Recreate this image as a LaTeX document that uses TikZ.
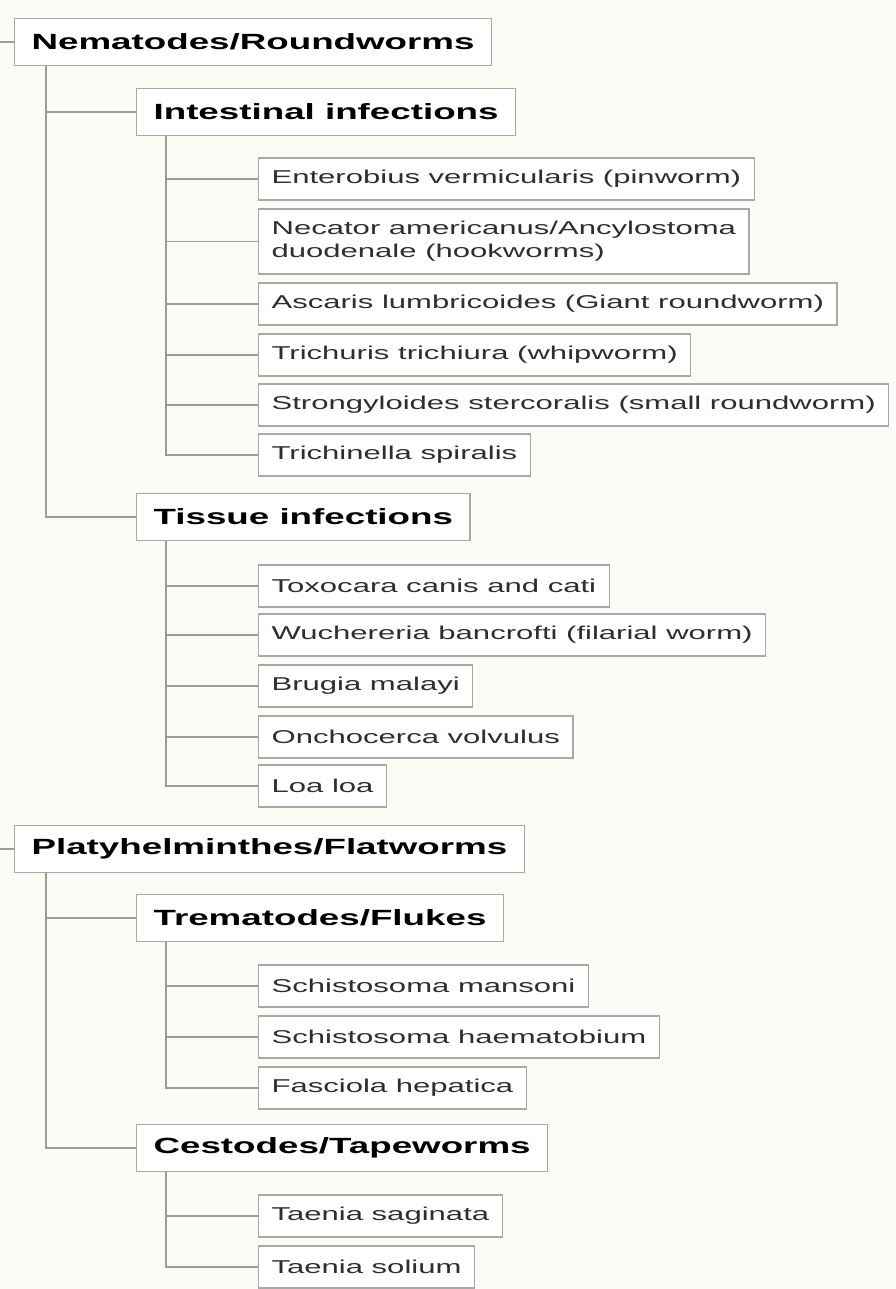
\documentclass[tikz,border=0pt]{standalone}
\usepackage{fontspec}
\setmainfont{Liberation Sans}[FakeStretch=1.67]
\definecolor{paper}{HTML}{FCFCF6}
\definecolor{boxgray}{HTML}{A8A8A8}
\definecolor{linegray}{HTML}{9C9C9C}
\definecolor{leaftext}{HTML}{2E2E2E}
\begin{document}
\begin{tikzpicture}[x=1pt,y=-1pt,
  box/.style={draw=boxgray,fill=white,line width=1.2pt,anchor=west,align=left},
  head/.style={box,font=\fontsize{22}{26}\selectfont\bfseries,text=black,inner xsep=17pt,minimum height=47pt},
  leaf/.style={box,font=\fontsize{18.6}{23}\selectfont,text=leaftext,inner xsep=13pt,minimum height=42pt},
  link/.style={draw=linegray,line width=1.3pt}]
\useasboundingbox (0,0) rectangle (895,1289);
\fill[paper] (0,0) rectangle (895,1289);
\coordinate (edge) at (0,0);

% roundworms
\node[head] (nem) at (14,42) {Nematodes/Roundworms};
\node[head] (intest) at (136,112) {Intestinal infections};
\node[leaf] (ent) at (258,179) {Enterobius vermicularis (pinworm)};
\node[leaf,minimum height=65pt] (nec) at (258,241.5) {Necator americanus/Ancylostoma\\duodenale (hookworms)};
\node[leaf] (asc) at (258,304) {Ascaris lumbricoides (Giant roundworm)};
\node[leaf] (tri) at (258,355) {Trichuris trichiura (whipworm)};
\node[leaf] (str) at (258,405) {Strongyloides stercoralis (small roundworm)};
\node[leaf] (trich) at (258,455) {Trichinella spiralis};

\node[head] (tissue) at (136,517) {Tissue infections};
\node[leaf] (tox) at (258,586) {Toxocara canis and cati};
\node[leaf] (wuch) at (258,635) {Wuchereria bancrofti (filarial worm)};
\node[leaf] (brug) at (258,686) {Brugia malayi};
\node[leaf] (onch) at (258,737) {Onchocerca volvulus};
\node[leaf] (loa) at (258,786) {Loa loa};

% flatworms
\node[head] (plat) at (14,849) {Platyhelminthes/Flatworms};
\node[head] (trem) at (136,918) {Trematodes/Flukes};
\node[leaf] (mans) at (258,986) {Schistosoma mansoni};
\node[leaf] (haem) at (258,1037) {Schistosoma haematobium};
\node[leaf] (fasc) at (258,1088) {Fasciola hepatica};

\node[head] (cest) at (136,1148) {Cestodes/Tapeworms};
\node[leaf] (sag) at (258,1216) {Taenia saginata};
\node[leaf] (sol) at (258,1267) {Taenia solium};

% links
\draw[link] (nem.west) -- (nem.west -| edge);
\draw[link] (plat.west) -- (plat.west -| edge);
\foreach \k in {intest,tissue}
  \draw[link] ([xshift=32pt]nem.south west) |- (\k.west);
\foreach \k in {trem,cest}
  \draw[link] ([xshift=32pt]plat.south west) |- (\k.west);
\foreach \k in {ent,nec,asc,tri,str,trich}
  \draw[link] ([xshift=30pt]intest.south west) |- (\k.west);
\foreach \k in {tox,wuch,brug,onch,loa}
  \draw[link] ([xshift=30pt]tissue.south west) |- (\k.west);
\foreach \k in {mans,haem,fasc}
  \draw[link] ([xshift=30pt]trem.south west) |- (\k.west);
\foreach \k in {sag,sol}
  \draw[link] ([xshift=30pt]cest.south west) |- (\k.west);
\end{tikzpicture}
\end{document}
